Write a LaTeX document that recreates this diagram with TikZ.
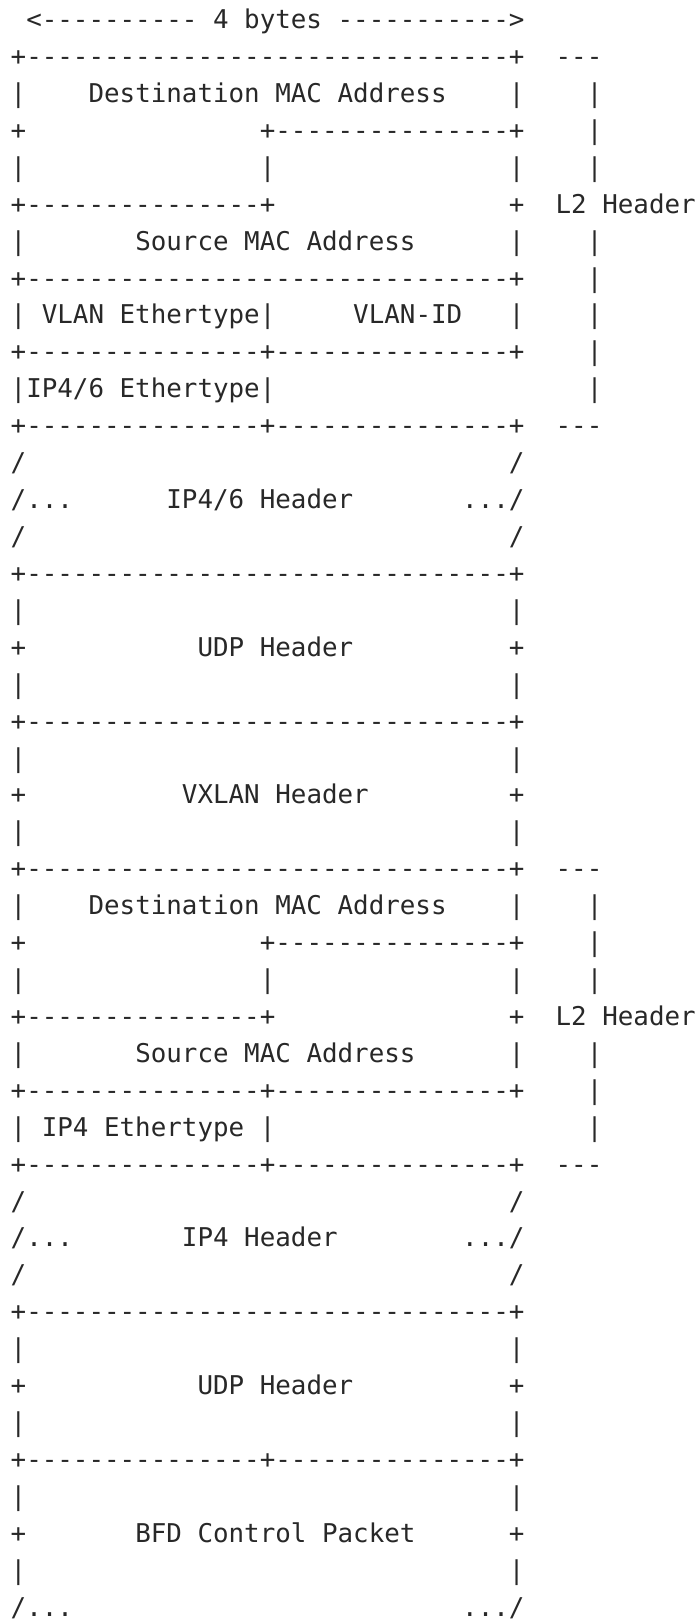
\documentclass[tikz,border=0pt]{standalone}
\usepackage{fontspec}
\setmonofont{DejaVu Sans Mono}
\definecolor{ink}{RGB}{40,40,40}
\tikzset{txt/.style={anchor=base west, inner sep=0pt, outer sep=0pt,
  font=\ttfamily\fontsize{25.86}{31}\selectfont, text=ink}}
% one text run: row, column, text
\newcommand{\asc}[3]{\node[txt] (r#1c#2) at ({10.7+#2*15.57},{28.6+(#1-1)*36.92}) {#3};}
\newcommand{\fullrow}{+----------------------------------------+}
\renewcommand{\fullrow}{+----------\nobreak----------\nobreak----------\nobreak-+}
\newcommand{\splitrow}{+---------------+---------------+}
\newcommand{\lefthalf}{+---------------+}
\begin{document}
\begin{tikzpicture}[x=1pt,y=-1pt]
\fill[white] (0,0) rectangle (700,1621);
\useasboundingbox (0,0) rectangle (700,1621);
% row 1
\asc{1}{1}{<---------- 4 bytes ----------->}
% first L2 header
\asc{2}{0}{\fullrow} \asc{2}{35}{---}
\asc{3}{0}{|} \asc{3}{5}{Destination MAC Address} \asc{3}{32}{|} \asc{3}{37}{|}
\asc{4}{0}{+} \asc{4}{16}{\lefthalf} \asc{4}{37}{|}
\asc{5}{0}{|} \asc{5}{16}{|} \asc{5}{32}{|} \asc{5}{37}{|}
\asc{6}{0}{\lefthalf} \asc{6}{32}{+} \asc{6}{35}{L2 Header}
\asc{7}{0}{|} \asc{7}{8}{Source MAC Address} \asc{7}{32}{|} \asc{7}{37}{|}
\asc{8}{0}{\fullrow} \asc{8}{37}{|}
\asc{9}{0}{| VLAN Ethertype|} \asc{9}{22}{VLAN-ID} \asc{9}{32}{|} \asc{9}{37}{|}
\asc{10}{0}{\splitrow} \asc{10}{37}{|}
\asc{11}{0}{|IP4/6 Ethertype|} \asc{11}{37}{|}
\asc{12}{0}{\splitrow} \asc{12}{35}{---}
% IP4/6 header
\asc{13}{0}{/} \asc{13}{32}{/}
\asc{14}{0}{/...} \asc{14}{10}{IP4/6 Header} \asc{14}{29}{.../}
\asc{15}{0}{/} \asc{15}{32}{/}
% UDP header
\asc{16}{0}{\fullrow}
\asc{17}{0}{|} \asc{17}{32}{|}
\asc{18}{0}{+} \asc{18}{12}{UDP Header} \asc{18}{32}{+}
\asc{19}{0}{|} \asc{19}{32}{|}
% VXLAN header
\asc{20}{0}{\fullrow}
\asc{21}{0}{|} \asc{21}{32}{|}
\asc{22}{0}{+} \asc{22}{11}{VXLAN Header} \asc{22}{32}{+}
\asc{23}{0}{|} \asc{23}{32}{|}
% second L2 header
\asc{24}{0}{\fullrow} \asc{24}{35}{---}
\asc{25}{0}{|} \asc{25}{5}{Destination MAC Address} \asc{25}{32}{|} \asc{25}{37}{|}
\asc{26}{0}{+} \asc{26}{16}{\lefthalf} \asc{26}{37}{|}
\asc{27}{0}{|} \asc{27}{16}{|} \asc{27}{32}{|} \asc{27}{37}{|}
\asc{28}{0}{\lefthalf} \asc{28}{32}{+} \asc{28}{35}{L2 Header}
\asc{29}{0}{|} \asc{29}{8}{Source MAC Address} \asc{29}{32}{|} \asc{29}{37}{|}
\asc{30}{0}{\splitrow} \asc{30}{37}{|}
\asc{31}{0}{| IP4 Ethertype |} \asc{31}{37}{|}
\asc{32}{0}{\splitrow} \asc{32}{35}{---}
% IP4 header
\asc{33}{0}{/} \asc{33}{32}{/}
\asc{34}{0}{/...} \asc{34}{11}{IP4 Header} \asc{34}{29}{.../}
\asc{35}{0}{/} \asc{35}{32}{/}
% UDP header
\asc{36}{0}{\fullrow}
\asc{37}{0}{|} \asc{37}{32}{|}
\asc{38}{0}{+} \asc{38}{12}{UDP Header} \asc{38}{32}{+}
\asc{39}{0}{|} \asc{39}{32}{|}
% BFD control packet
\asc{40}{0}{\splitrow}
\asc{41}{0}{|} \asc{41}{32}{|}
\asc{42}{0}{+} \asc{42}{8}{BFD Control Packet} \asc{42}{32}{+}
\asc{43}{0}{|} \asc{43}{32}{|}
\asc{44}{0}{/...} \asc{44}{29}{.../}
\end{tikzpicture}
\end{document}
